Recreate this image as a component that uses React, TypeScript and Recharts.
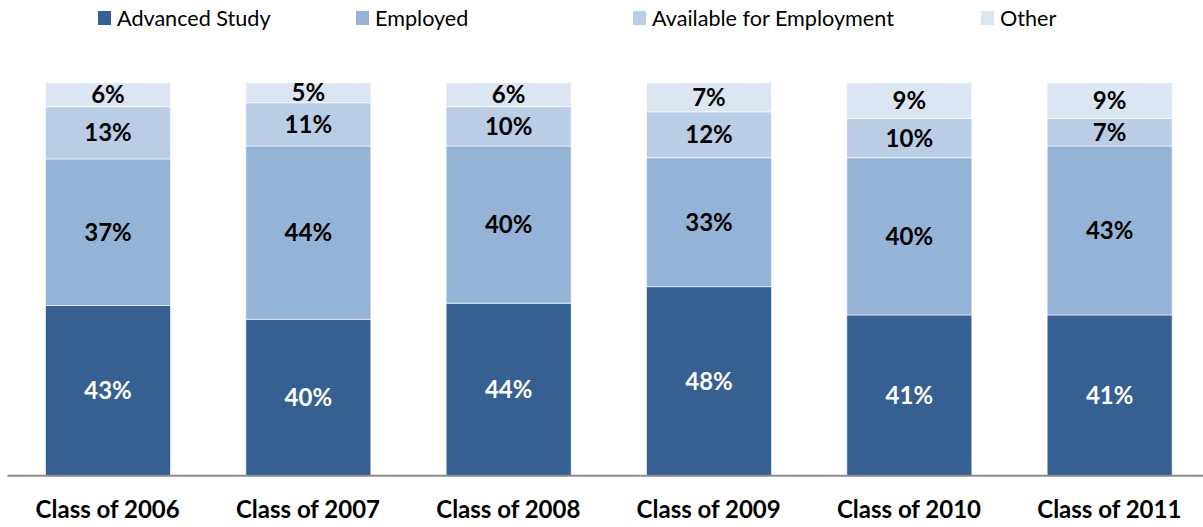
import React from 'react';
import { BarChart, Bar, XAxis, YAxis, Legend, LabelList } from 'recharts';

const categories = ['Class of 2006', 'Class of 2007', 'Class of 2008', 'Class of 2009', 'Class of 2010', 'Class of 2011'];
const advancedStudy = [43.3, 39.8, 43.9, 48.1, 40.9, 40.9];
const employed = [37.3, 44.1, 40.0, 32.8, 40.0, 43.0];
const availableForEmployment = [13.3, 11.0, 10.0, 11.7, 10.0, 7.0];
const other = [6.1, 5.1, 6.1, 7.4, 9.1, 9.1];
const seriesNames = ['Advanced Study', 'Employed', 'Available for Employment', 'Other'];

const seriesKeys = ['adv', 'emp', 'avail', 'other'];
const colors = ['#376092', '#95B3D7', '#B9CDE5', '#DCE6F2'];
const labelColors = ['#FFFFFF', '#000000', '#000000', '#000000'];
const legendLefts = [98, 356, 633, 981];

const data = categories.map((c, i) => ({
  name: c,
  adv: advancedStudy[i],
  emp: employed[i],
  avail: availableForEmployment[i],
  other: other[i],
}));

const FONT = 'Lato, "Open Sans", sans-serif';

const LegendContent = () => (
  <div style={{ position: 'relative', width: 1203, height: 40, fontFamily: FONT }}>
    {seriesNames.map((n, i) => (
      <div key={n} style={{ position: 'absolute', left: legendLefts[i], top: 0, height: 35, display: 'flex', alignItems: 'center' }}>
        <span style={{ display: 'inline-block', width: 13, height: 14, background: colors[i], marginRight: 6 }} />
        <span style={{ fontSize: 21.6, color: '#000', whiteSpace: 'nowrap' }}>{n}</span>
      </div>
    ))}
  </div>
);

const Tick = (props: any) => {
  const { x, y, payload } = props;
  return (
    <text x={x} y={y + 34} textAnchor="middle" fontFamily={FONT} fontWeight={700} fontSize={24} fill="#000">
      {payload.value}
    </text>
  );
};

export default function App() {
  return (
    <div style={{ position: 'absolute', left: 0, top: 0, width: 1203, height: 527, overflow: 'hidden', background: '#fff' }}>
      <BarChart
        width={1212}
        height={527}
        data={data}
        margin={{ top: 82.7, right: 2.5, bottom: 11.3, left: 7.5 }}
      >
        <XAxis
          dataKey="name"
          height={40}
          tickLine={false}
          axisLine={{ stroke: '#8C8C8C', strokeWidth: 2 }}
          tick={<Tick />}
          interval={0}
        />
        <YAxis hide domain={[0, 100]} />
        <Legend
          verticalAlign="middle"
          align="center"
          wrapperStyle={{ top: 0, left: 0, width: 1203 }}
          content={<LegendContent />}
        />
        {seriesKeys.map((k, i) => (
          <Bar
            key={k}
            dataKey={k}
            name={seriesNames[i]}
            stackId="a"
            fill={colors[i]}
            stroke="rgba(255,255,255,0.6)"
            strokeWidth={1}
            barSize={125}
            isAnimationActive={false}
          >
            <LabelList
              dataKey={k}
              position="center"
              formatter={(v: any) => `${Math.round(Number(v))}%`}
              fill={labelColors[i]}
              fontFamily={FONT}
              fontWeight={700}
              fontSize={24}
            />
          </Bar>
        ))}
      </BarChart>
    </div>
  );
}
